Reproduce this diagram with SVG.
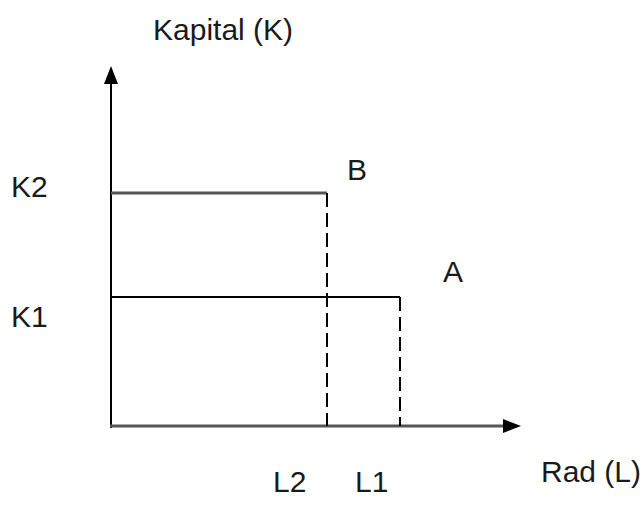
<svg xmlns="http://www.w3.org/2000/svg" width="644" height="509" viewBox="0 0 644 509">
<style>
text{font-family:"Liberation Sans",Arial,sans-serif;font-size:30px;fill:#1a1a1a}
.ax{stroke:#555;stroke-width:3;fill:none}
.ln{stroke:#000;stroke-width:2;fill:none}
.ds{stroke:#000;stroke-width:2;fill:none;stroke-dasharray:14,6}
</style>
<defs>
<marker id="ah" viewBox="0 0 18 14" refX="2" refY="7" markerWidth="18" markerHeight="14" markerUnits="userSpaceOnUse" orient="auto">
<polygon points="0,0 18,7 0,14" fill="#000"/>
</marker>
</defs>
<g id="connectors">
<line class="ln" x1="111" y1="428" x2="111" y2="82" marker-end="url(#ah)"/>
<line class="ax" x1="110" y1="426" x2="505" y2="426" marker-end="url(#ah)"/>
<line class="ax" x1="111" y1="193" x2="327" y2="193"/>
<line class="ds" x1="327" y1="193" x2="327" y2="426"/>
<line class="ln" x1="111" y1="297" x2="400" y2="297"/>
<line class="ds" x1="400" y1="297" x2="400" y2="426"/>
</g>
<g id="labels">
<text x="153" y="40">Kapital (K)</text>
<text x="11" y="197">K2</text>
<text x="11" y="327">K1</text>
<text x="347" y="180">B</text>
<text x="443" y="282">A</text>
<text x="541" y="482">Rad (L)</text>
<text x="273" y="492">L2</text>
<text x="355" y="492">L1</text>
</g>
</svg>
